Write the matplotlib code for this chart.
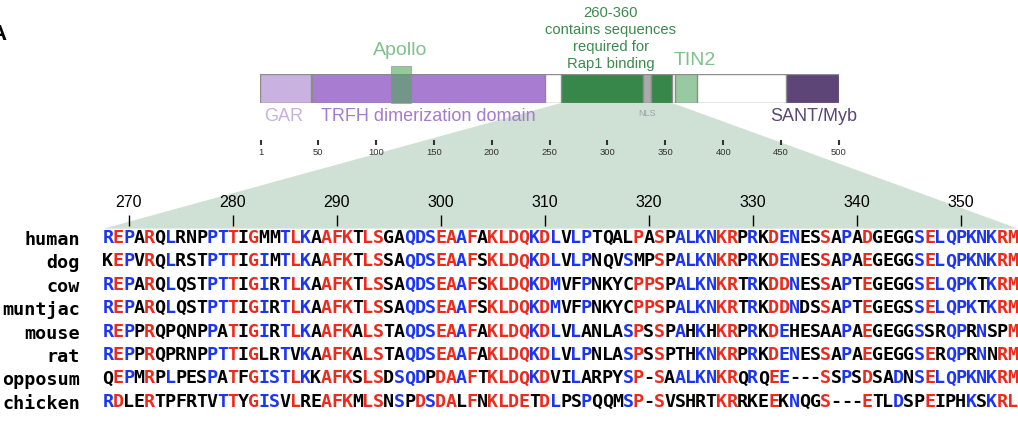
import matplotlib
matplotlib.use('Agg')
import matplotlib.pyplot as plt
from matplotlib.patches import Polygon

plt.rcParams['font.family'] = ['Liberation Sans', 'DejaVu Sans']

# ---- data -------------------------------------------------------------
species = ['human', 'dog', 'cow', 'muntjac', 'mouse', 'rat', 'opposum', 'chicken']
sequences = [
    'REPARQLRNPPTTIGMMTLKAAFKTLSGAQDSEAAFAKLDQKDLVLPTQALPASPALKNKRPRKDENESSAPADGEGGSELQPKNKRM',
    'KEPVRQLRSTPTTIGIMTLKAAFKTLSSAQDSEAAFSKLDQKDLVLPNQVSMPSPALKNKRPRKDENESSAPAEGEGGSELQPKNKRM',
    'REPARQLQSTPTTIGIRTLKAAFKTLSSAQDSEAAFSKLDQKDMVFPNKYCPPSPALKNKRTRKDDNESSAPTEGEGGSELQPKTKRM',
    'REPARQLQSTPTTIGIRTLKAAFKTLSSAQDSEAAFSKLDQKDMVFPNKYCPPSPALKNKRTRKDDNDSSAPTEGEGSSELQPKTKRM',
    'REPPRQPQNPPATIGIRTLKAAFKALSTAQDSEAAFAKLDQKDLVLANLASPSSPAHKHKRPRKDEHESAAPAEGEGGSSRQPRNSPM',
    'REPPRQPRNPPTTIGLRTVKAAFKALSTAQDSEAAFAKLDQKDLVLPNLASPSSPTHKNKRPRKDENESSAPAEGEGGSERQPRNNRM',
    'QEPMRPLPESPATFGISTLKKAFKSLSDSQDPDAAFTKLDQKDVILARPYSP-SAALKNKRQRQEE---SSPSDSADNSELQPKNKRM',
    'RDLERTPFRTVTTYGISVLREAFKMLSNSPDSDALFNKLDETDLPSPQQMSP-SVSHRTKRRKEEKNQGS---ETLDSPEIPHKSKRL',
]
# conservation class per residue: r = high, b = low, k = none
conservation = [
    'brbkrkbkkk' 'bbrkrkkbrb' 'krrrkrrkkb' 'bbrrbrkrrr' 'rbrbkbbkkk' 'krkrkbbbbr' 'rkbkrbbkkr' 'kbkrkkkkbr' 'bbbbbbrr',
    'krbkrkbkkk' 'bbrkrbkbrb' 'krrrkrrkkb' 'bbrrbrkrrr' 'rbrbkbbkkk' 'bkkrkbbbbr' 'rkbkrbbkkr' 'kbkrkkkkbr' 'bbbbbbrr',
    'brbkrkbkkk' 'bbrkrbkbrb' 'krrrkrrkkb' 'bbrrbrkrrr' 'rbrbkkbkkk' 'krrrkbbbbr' 'rkbkrrbkkr' 'kbkrkkkkbr' 'bbbbkbrr',
    'brbkrkbkkk' 'bbrkrbkbrb' 'krrrkrrkkb' 'bbrrbrkrrr' 'rbrbkkbkkk' 'krrrkbbbbr' 'rkbkrrbkkr' 'kbkrkkkkbr' 'bbbbkbrr',
    'brbkrkkkkk' 'bkrkrbkbrb' 'krrrkrrkkb' 'bbrrbrkrrr' 'rbrbkbkkkk' 'brkrkbkbkr' 'rkbkrbkkkk' 'kbkrkkkkbk' 'kbbkbkkr',
    'brbkrkkkkk' 'bbrkrkkbkb' 'krrrkrrkkb' 'bbrrbrkrrr' 'rbrbkbbkkk' 'brkrkkkbbr' 'rkbkrbbkkr' 'kbkrkkkkbr' 'kbbkbkrr',
    'krbkrkbkkk' 'bkrkrbbbrb' 'krrrkrrkbb' 'bkrrbrkrrr' 'rbrkkbkkkk' 'brkrkbbbbr' 'rkbkrbkkkr' 'kbkrkkbkbr' 'bbbbbbrr',
    'brkkrkkkkk' 'kbrkrbbkrk' 'krrrkrrkbk' 'rbrrkrkrrr' 'rkrbkkbkkk' 'brkrkkkkkr' 'rkkkrkbkkr' 'kkkrkkbkkr' 'kkkbkbrr',
]
first_residue = 268
aln_ticks = [270, 280, 290, 300, 310, 320, 330, 340, 350]

protein_length = 500
domain_names = ['GAR', 'TRFH', 'Rap1', 'NLS', 'Rap1b', 'TIN2', 'SANT/Myb']
domain_start = [0, 45, 260, 331, 338, 358, 454]
domain_end = [44, 246, 331, 338, 356, 377, 500]
apollo_start, apollo_end = 113, 130
zoom_start, zoom_end = 260, 356
scale_ticks = [1, 50, 100, 150, 200, 250, 300, 350, 400, 450, 500]

# ---- style ------------------------------------------------------------
palette = {'r': '#ee2a1c', 'b': '#1c35f2', 'k': '#000000'}
domain_colors = ['#c9b2e0', '#a87cd0', '#37874a', '#aaaaac', '#37874a', '#98c9a0', '#5e4577']
edge = '#8c8c8c'

W, H = 1018, 421
fig = plt.figure(figsize=(W / 100, H / 100), dpi=100)

# domain map
ax_map = fig.add_axes([260 / W, (H - 103) / H, 579 / W, 29 / H])
ax_map.set_xlim(0, protein_length)
ax_map.set_ylim(1, 0)
ax_map.patch.set_visible(False)
ax_map.barh(0.5, protein_length, left=0, height=1, color='white', edgecolor=edge, lw=1)
for s, e, c in zip(domain_start, domain_end, domain_colors):
    ax_map.barh(0.5, e - s, left=s, height=1, color=c, edgecolor=edge, lw=1)
apollo = ax_map.barh(0.36, apollo_end - apollo_start, left=apollo_start, height=1.28,
                     color=(80 / 255, 168 / 255, 92 / 255), alpha=0.6, edgecolor=edge,
                     lw=0.8, zorder=3)
for patch in apollo:
    patch.set_clip_on(False)

for sp in ax_map.spines.values():
    sp.set_visible(False)
ax_map.spines['bottom'].set_position(('outward', 26.6))
ax_map.set_yticks([])
ax_map.set_xticks(scale_ticks)
ax_map.set_xticklabels([str(t) for t in scale_ticks])
ax_map.tick_params(axis='x', direction='out', length=3.6, width=1.5, color='#333333',
                   pad=2, labelsize=6.8, labelcolor='#333333')

ax_map.text(20, 1.48, 'GAR', color='#c8b0de', fontsize=13, ha='center', va='center')
ax_map.text(145.5, 1.48, 'TRFH dimerization domain', color='#a57bcc', fontsize=13,
            ha='center', va='center')
ax_map.text(478.5, 1.48, 'SANT/Myb', color='#5d4477', fontsize=13, ha='center', va='center')
ax_map.text(334.5, 1.36, 'NLS', color='#a0a0a0', fontsize=6.5, ha='center', va='center')
ax_map.text(121, -0.8, 'Apollo', color='#7fc18a', fontsize=14, ha='center', va='center')
ax_map.text(375.5, -0.45, 'TIN2', color='#7fc18a', fontsize=14, ha='center', va='center')
ax_map.text(303, -1.22, '260-360\ncontains sequences\nrequired for\nRap1 binding',
            color='#3b8a4c', fontsize=10.6, ha='center', va='center', linespacing=1.28)

# alignment
ax_aln = fig.add_axes([102.8 / W, 0, 915.2 / W, (H - 226) / H])
ax_aln.set_xlim(first_residue - 0.5, first_residue + len(sequences[0]) - 0.5)
ax_aln.set_ylim(7.82, -0.513)
ax_aln.patch.set_visible(False)
for sp in ax_aln.spines.values():
    sp.set_visible(False)

mono = dict(family='DejaVu Sans Mono', weight='bold', size=13.2)
for i, (seq, cls) in enumerate(zip(sequences, conservation)):
    for j, (ch, c) in enumerate(zip(seq, cls)):
        ax_aln.text(first_residue + j, i, ch, color=palette[c], ha='center',
                    va='center', fontdict=mono)

ax_aln.set_yticks(range(len(species)))
ax_aln.set_yticklabels(species, fontdict=mono)
ax_aln.tick_params(axis='y', length=0, pad=16.4)
ax_aln.xaxis.tick_top()
ax_aln.set_xticks(aln_ticks)
ax_aln.set_xticklabels([str(t) for t in aln_ticks])
ax_aln.tick_params(axis='x', direction='out', length=8, width=1, pad=3.5, labelsize=11.5)

# zoom wedge from the map to the alignment
to_fig = fig.transFigure.inverted()
pts = [ax_map.transData.transform((zoom_start, 1)),
       ax_map.transData.transform((zoom_end, 1)),
       ax_aln.transData.transform((first_residue + len(sequences[0]) - 0.5, -0.4)),
       ax_aln.transData.transform((first_residue - 0.4, -0.4))]
wedge = Polygon(to_fig.transform(pts), closed=True, transform=fig.transFigure,
                facecolor='#cfe1d4', edgecolor='none', zorder=-1)
fig.add_artist(wedge)

fig.text(-1.5 / W, 1 - 35 / H, 'A', fontsize=16, fontweight='bold', ha='center', va='center')

fig.savefig('out.png', dpi=100)
